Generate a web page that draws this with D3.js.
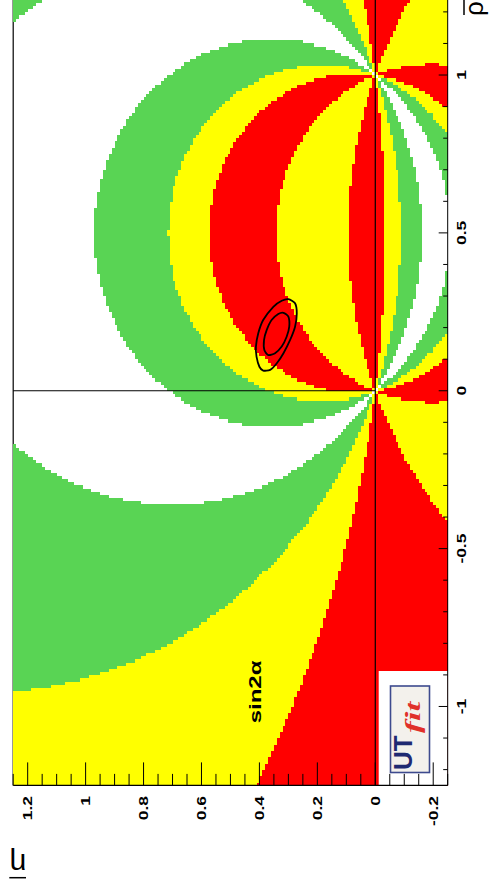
<!DOCTYPE html>
<html>
<head>
<meta charset="utf-8">
<script src="https://cdn.jsdelivr.net/npm/d3@7"></script>
<style>
    body { margin: 0; background: #fff; }
    svg { display: block; }
    .tickLabel { font-family: "Liberation Sans", Arial, sans-serif; font-weight: bold; font-size: 12px; fill: #000; }
    .title { font-family: "Liberation Sans", Arial, sans-serif; font-size: 26px; fill: #000; }
</style>
</head>
<body>
<svg id="chart" width="496" height="895"></svg>
<script>
// ---------------------------- DATA ----------------------------
// Plane of the plot: rho-bar runs up the page, eta-bar runs right-to-left (plot is turned on its side)
const rhoDomain = [-1.25, 1.25];
const etaDomain = [-0.25, 1.25];
const rhoBins = 250;
const etaBins = 150;

// sin2alpha bands: edges and the colour of each band (null = left white)
const s2aEdges = [-1.0, -0.67, 0.27, 0.645, 0.945, 1.0];
const s2aColours = ["#ffff00", "#ff0000", "#ffff00", "#59d454", null];

// Axis ticks
const rhoMajor = [-1, -0.5, 0, 0.5, 1];
const rhoLabels = ["-1", "-0.5", "0", "0.5", "1"];
const etaMajor = [-0.2, 0, 0.2, 0.4, 0.6, 0.8, 1, 1.2];
const etaLabels = ["-0.2", "0", "0.2", "0.4", "0.6", "0.8", "1", "1.2"];

// Global fit contours, [rho, eta] points
const outerContour = [[0.290,0.300],[0.277,0.277],[0.245,0.271],[0.203,0.277],[0.161,0.294],[0.119,0.317],
    [0.087,0.340],[0.066,0.363],[0.064,0.387],[0.076,0.400],[0.108,0.410],[0.140,0.412],[0.182,0.404],
    [0.224,0.387],[0.266,0.352],[0.285,0.323]];
const innerContour = [[0.247,0.317],[0.235,0.300],[0.203,0.297],[0.171,0.306],[0.140,0.323],[0.119,0.346],
    [0.113,0.369],[0.129,0.383],[0.161,0.384],[0.192,0.375],[0.224,0.358],[0.243,0.335]];

// ---------------------------- SCALES ----------------------------
const svg = d3.select("#chart");
const x = d3.scaleLinear().domain(etaDomain).range([447.7, 13.2]);   // eta -> page x
const y = d3.scaleLinear().domain(rhoDomain).range([785.4, -3.9]);   // rho -> page y

// sin2alpha as a function of (rho, eta)
function sin2alpha(rho, eta) {
    const a = rho * (1 - rho) - eta * eta;
    return -2 * eta * a / (a * a + eta * eta);
}

function bandOf(s) {
    for (let k = 0; k < s2aColours.length; k++) {
        if (s >= s2aEdges[k] && s <= s2aEdges[k + 1]) return k;
    }
    return s2aColours.length - 1;
}

// Frame edge that sits under the histogram
svg.append("line").attr("x1", x(etaDomain[1])).attr("x2", x(etaDomain[1]))
    .attr("y1", y(rhoDomain[0])).attr("y2", y(rhoDomain[1]))
    .attr("stroke", "#000").attr("stroke-width", 1.2);

// ---------------------------- HISTOGRAM ----------------------------
// one rect per run of equal-colour bins along each rho row
const dRho = (rhoDomain[1] - rhoDomain[0]) / rhoBins;
const dEta = (etaDomain[1] - etaDomain[0]) / etaBins;
let runs = [];
for (let i = 0; i < rhoBins; i++) {
    const rhoLo = rhoDomain[0] + i * dRho;
    const rhoC = rhoLo + dRho / 2;
    let start = 0;
    let current = bandOf(sin2alpha(rhoC, etaDomain[0] + dEta / 2));
    for (let j = 1; j <= etaBins; j++) {
        const b = j < etaBins ? bandOf(sin2alpha(rhoC, etaDomain[0] + (j + 0.5) * dEta)) : -1;
        if (b !== current) {
            if (s2aColours[current]) {
                runs.push({rhoLo: rhoLo, rhoHi: rhoLo + dRho,
                    etaLo: etaDomain[0] + start * dEta, etaHi: etaDomain[0] + j * dEta,
                    colour: s2aColours[current]});
            }
            start = j;
            current = b;
        }
    }
}

svg.append("g")
    .attr("shape-rendering", "crispEdges")
    .selectAll("rect")
    .data(runs)
    .enter()
    .append("rect")
    .attr("x", d => x(d.etaHi))
    .attr("width", d => x(d.etaLo) - x(d.etaHi))
    .attr("y", d => y(d.rhoHi))
    .attr("height", d => y(d.rhoLo) - y(d.rhoHi) + 0.3)
    .style("fill", d => d.colour);

// Logo patch (white box over the lower-right corner)
svg.append("rect").attr("x", 378.7).attr("y", 671).attr("width", x(etaDomain[0]) - 378.7)
    .attr("height", y(rhoDomain[0]) - 671).attr("fill", "#fff");

// ---------------------------- AXES LINES ----------------------------
// eta = 0 across the whole rho range, rho = 0 for eta > 0
svg.append("line").attr("x1", x(0)).attr("x2", x(0)).attr("y1", y(rhoDomain[0])).attr("y2", y(rhoDomain[1]))
    .attr("stroke", "#000").attr("stroke-width", 1.2);
svg.append("line").attr("x1", x(0)).attr("x2", x(etaDomain[1])).attr("y1", y(0)).attr("y2", y(0))
    .attr("stroke", "#000").attr("stroke-width", 1.2);

// Contours
const contourLine = d3.line().x(d => x(d[1])).y(d => y(d[0])).curve(d3.curveCardinalClosed.tension(0.3));
[outerContour, innerContour].forEach(c => {
    svg.append("path").attr("d", contourLine(c))
        .attr("fill", "none").attr("stroke", "#000").attr("stroke-width", 1.8);
});

// rho axis (right edge)
svg.append("line").attr("x1", x(etaDomain[0])).attr("x2", x(etaDomain[0]))
    .attr("y1", y(rhoDomain[0])).attr("y2", y(rhoDomain[1]))
    .attr("stroke", "#000").attr("stroke-width", 1);
svg.append("g").selectAll("line")
    .data(y.ticks(25))
    .enter()
    .append("line")
    .attr("x1", x(etaDomain[0]))
    .attr("x2", d => x(etaDomain[0]) - (rhoMajor.some(m => Math.abs(m - d) < 1e-6) ? 9 : 4.5))
    .attr("y1", d => y(d)).attr("y2", d => y(d))
    .attr("stroke", "#000").attr("stroke-width", 1);
svg.append("g").selectAll("text")
    .data(rhoMajor)
    .enter()
    .append("text")
    .attr("class", "tickLabel")
    .attr("transform", d => "translate(466," + y(d) + ") rotate(-90) scale(1.45,1)")
    .attr("text-anchor", "middle")
    .text((d, i) => rhoLabels[i]);

// eta axis (bottom edge)
svg.append("line").attr("x1", x(etaDomain[0])).attr("x2", x(etaDomain[1]))
    .attr("y1", y(rhoDomain[0])).attr("y2", y(rhoDomain[0]))
    .attr("stroke", "#000").attr("stroke-width", 1.2);
svg.append("g").selectAll("line")
    .data(x.ticks(30))
    .enter()
    .append("line")
    .attr("x1", d => x(d)).attr("x2", d => x(d))
    .attr("y1", y(rhoDomain[0]))
    .attr("y2", d => y(rhoDomain[0]) - (etaMajor.some(m => Math.abs(m - d) < 1e-6) ? 23 : 11.5))
    .attr("stroke", "#000").attr("stroke-width", 1);
svg.append("g").selectAll("text")
    .data(etaMajor)
    .enter()
    .append("text")
    .attr("class", "tickLabel")
    .attr("transform", d => "translate(" + (x(d) + 4.5) + ",796) rotate(-90) scale(1.45,1)")
    .attr("text-anchor", "end")
    .text((d, i) => etaLabels[i]);

// ---------------------------- TEXT ----------------------------
svg.append("text")
    .attr("class", "tickLabel")
    .style("font-size", "16px")
    .attr("transform", "translate(261,692) rotate(-90) scale(1.5,1)")
    .attr("text-anchor", "middle")
    .text("sin2α");

// rho-bar title (top right)
svg.append("text").attr("class", "title")
    .attr("transform", "translate(483,16) rotate(-90)")
    .text("ρ");
svg.append("line").attr("x1", 464).attr("x2", 464).attr("y1", 15).attr("y2", -6)
    .attr("stroke", "#000").attr("stroke-width", 1.5);

// eta-bar title (bottom left, upside down)
svg.append("text").attr("class", "title")
    .style("font-size", "30px")
    .attr("transform", "translate(18,854) rotate(180)")
    .attr("text-anchor", "middle")
    .text("η");
svg.append("line").attr("x1", 9.3).attr("x2", 26).attr("y1", 877.7).attr("y2", 877.7)
    .attr("stroke", "#000").attr("stroke-width", 1.5);

// UTfit logo
const logo = svg.append("g");
logo.append("rect").attr("x", 390.5).attr("y", 686).attr("width", 39).attr("height", 86.5)
    .attr("fill", "#f3f1ec").attr("stroke", "#3d4a8e").attr("stroke-width", 1.6);
logo.append("text")
    .attr("transform", "translate(412,770) rotate(-90)")
    .style("font-family", "'Liberation Sans', Arial, sans-serif")
    .style("font-weight", "bold").style("font-size", "26px").style("fill", "#1f2a72")
    .text("UT");
logo.append("text")
    .attr("transform", "translate(420,733) rotate(-90) scale(1.6,1)")
    .style("font-family", "'Liberation Serif', serif")
    .style("font-weight", "bold").style("font-style", "italic").style("font-size", "22px").style("fill", "#e0302a")
    .text("fit");
</script>
</body>
</html>
